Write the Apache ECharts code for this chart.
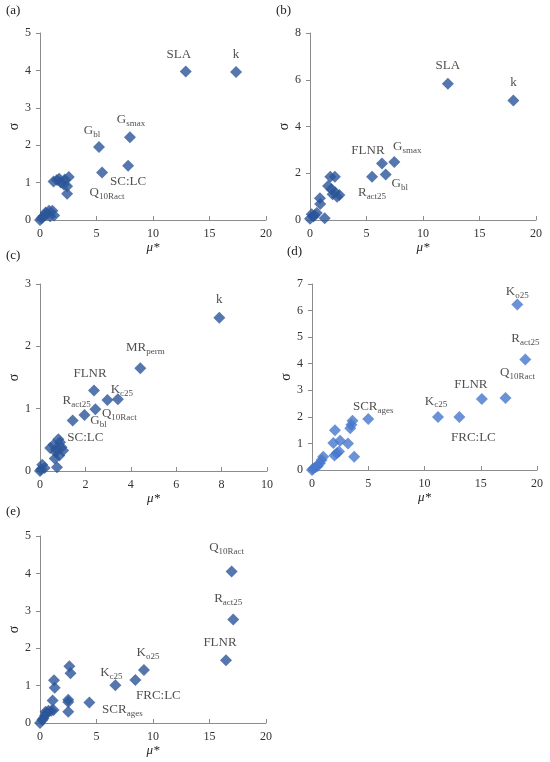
<!DOCTYPE html>
<html><head><meta charset="utf-8">
<script src="https://cdn.jsdelivr.net/npm/echarts@6/dist/echarts.min.js"></script>
<style>html,body{margin:0;padding:0;background:#fff}#c{width:550px;height:762px}</style>
</head><body><div id="c"></div>
<script>
// ---------- DATA ----------
// Panel (a)
const aNames = ['SLA','k','G{s|smax}','G{s|bl}','SC:LC','Q{s|10Ract}'];
const aNamedMu = [12.9, 17.35, 7.96, 5.22, 7.8, 5.49];
const aNamedSigma = [3.97, 3.96, 2.21, 1.95, 1.45, 1.27];
const aMu = [1.2,1.5,1.85,2.2,2.55,2.1,2.4,2.4,1.7,0,0.15,0.3,0.5,0.8,1.1,1.25,0.6,0.9];
const aSigma = [1.03,1.07,1.0,1.08,1.15,0.95,0.9,0.7,1.1,0,0.05,0.1,0.2,0.25,0.25,0.12,0.15,0.1];
// Panel (b)
const bNames = ['SLA','k','G{s|smax}','FLNR','G{s|bl}','R{s|act25}'];
const bNamedMu = [12.2, 18.0, 7.46, 6.37, 6.7, 5.49];
const bNamedSigma = [5.83, 5.11, 2.48, 2.42, 1.95, 1.85];
const bMu = [1.8,2.2,1.6,1.9,2.2,2.4,2.6,2.0,0.88,0.9,0.6,0.3,0,0.15,1.3,0.4];
const bSigma = [1.85,1.85,1.45,1.32,1.2,1.0,1.07,1.1,0.93,0.68,0.3,0.15,0.05,0.25,0.08,0.2];
// Panel (c)
const cNames = ['k','MR{s|perm}','FLNR','K{s|c25}','Q{s|10Ract}','G{s|bl}','R{s|act25}','SC:LC'];
const cNamedMu = [7.9, 4.42, 2.38, 3.43, 2.44, 1.96, 1.44, 0.81];
const cNamedSigma = [2.46, 1.65, 1.29, 1.15, 0.99, 0.9, 0.81, 0.51];
const cMu = [2.97,0.88,0.6,0.95,1.02,0.45,0.7,0.85,0.65,0.75,0.1,0.2,0,0.05,0.7];
const cSigma = [1.14,0.46,0.42,0.38,0.33,0.37,0.3,0.25,0.2,0.06,0.1,0.05,0,0.03,0.35];
// Panel (d)
const dNames = ['K{s|o25}','R{s|act25}','Q{s|10Ract}','FLNR','K{s|c25}','FRC:LC','SCR{s|ages}'];
const dNamedMu = [18.25, 18.96, 17.2, 15.1, 11.2, 13.1, 5.0];
const dNamedSigma = [6.23, 4.16, 2.71, 2.67, 1.99, 1.99, 1.92];
const dMu = [3.6,3.4,3.5,2.04,1.9,2.5,3.2,2.2,2.4,2.0,3.75,1.0,0.85,0.7,0.5,0.3,0.1,0];
const dSigma = [1.85,1.57,1.7,1.5,1.02,1.1,1.0,0.63,0.7,0.55,0.5,0.5,0.38,0.25,0.15,0.1,0.05,0];
// Panel (e)
const eNames = ['Q{s|10Ract}','R{s|act25}','FLNR','K{s|o25}','FRC:LC','K{s|c25}','SCR{s|ages}'];
const eNamedMu = [16.96, 17.1, 16.46, 9.2, 8.44, 6.67, 4.37];
const eNamedSigma = [4.05, 2.77, 1.68, 1.42, 1.15, 1.01, 0.55];
const eMu = [2.6,2.7,1.24,1.3,1.12,1.2,1.0,2.5,2.5,2.5,0,0.3,0.45,0.6,0.75,0.2,0.5];
const eSigma = [1.52,1.33,1.14,0.94,0.6,0.35,0.33,0.62,0.56,0.3,0,0.12,0.2,0.27,0.33,0.08,0.3];

const xTicks = {a:[0,20,5], b:[0,20,5], c:[0,10,2], d:[0,20,5], e:[0,20,5]};
const yTicks = {a:[0,5,1], b:[0,8,2], c:[0,3,1], d:[0,7,1], e:[0,5,1]};

// ---------- LAYOUT / STYLE ----------
const FONT = 'Liberation Serif';
const dark = '#2b5599', light = '#4677cc';
const grids = [
  {left:40, top:33, width:226, height:187},
  {left:310, top:33, width:226, height:187},
  {left:40, top:284, width:227, height:187},
  {left:312, top:284, width:225, height:186},
  {left:40, top:536, width:226, height:187}
];
// label offsets (label centre relative to point centre, px)
const offs = {
  a: [[-7,-17],[0,-17],[1,-18],[-7,-16],[0,16],[5,20]],
  b: [[0,-18],[0,-18],[13,-15],[-14,-13],[14,9],[0,16]],
  c: [[0,-18],[5,-21],[-4,-17],[4,-10],[24,4],[14,6],[4,-20],[27,-2]],
  d: [[0,-13],[0,-21],[12,-25],[-11,-14],[-2,-16],[14,20],[5,-12]],
  e: [[-5,-24],[-5,-21],[-6,-18],[4,-17],[23,16],[-4,-13],[33,7]]
};
const panels = [
  {k:'a', names:aNames, nm:aNamedMu, ns:aNamedSigma, mu:aMu, sg:aSigma, color:dark},
  {k:'b', names:bNames, nm:bNamedMu, ns:bNamedSigma, mu:bMu, sg:bSigma, color:dark},
  {k:'c', names:cNames, nm:cNamedMu, ns:cNamedSigma, mu:cMu, sg:cSigma, color:dark},
  {k:'d', names:dNames, nm:dNamedMu, ns:dNamedSigma, mu:dMu, sg:dSigma, color:light},
  {k:'e', names:eNames, nm:eNamedMu, ns:eNamedSigma, mu:eMu, sg:eSigma, color:dark}
];
const axisColor = '#8c8c8c';
const rich = { s: {fontSize:9, fontFamily:FONT, color:'#222', padding:[8,0,0,0]} };

const xAxis = [], yAxis = [], series = [];
panels.forEach((p, i) => {
  const xt = xTicks[p.k], yt = yTicks[p.k];
  xAxis.push({
    gridIndex:i, type:'value', min:xt[0], max:xt[1], interval:xt[2],
    name:'μ*', nameLocation:'middle', nameGap:19,
    nameTextStyle:{fontFamily:FONT, fontSize:13, fontStyle:'italic', color:'#222'},
    axisLine:{show:true, onZero:false, lineStyle:{color:axisColor}},
    axisTick:{show:true, inside:true, length:4, lineStyle:{color:axisColor}},
    axisLabel:{fontFamily:FONT, fontSize:12, color:'#333', margin:8},
    splitLine:{show:false}
  });
  yAxis.push({
    gridIndex:i, type:'value', min:yt[0], max:yt[1], interval:yt[2],
    name:'σ', nameLocation:'middle', nameGap:19, nameRotate:90,
    nameTextStyle:{fontFamily:FONT, fontSize:14, color:'#222'},
    axisLine:{show:true, onZero:false, lineStyle:{color:axisColor}},
    axisTick:{show:true, inside:false, length:4, lineStyle:{color:axisColor}},
    axisLabel:{fontFamily:FONT, fontSize:12, color:'#333', margin:9},
    splitLine:{show:false}
  });
  const data = [];
  p.mu.forEach((m, j) => data.push([m, p.sg[j]]));
  p.nm.forEach((m, j) => data.push({
    value:[m, p.ns[j]],
    label:{show:true, formatter:p.names[j], position:'inside', offset:offs[p.k][j],
      align:'center', verticalAlign:'middle',
      fontFamily:FONT, fontSize:13, color:'#222', rich:rich}
  }));
  series.push({
    type:'scatter', xAxisIndex:i, yAxisIndex:i, symbol:'diamond', symbolSize:12,
    clip:false, itemStyle:{color:p.color}, data:data, silent:true, animation:false
  });
});

const letters = [['(a)',6,12],['(b)',276,12],['(c)',6,257],['(d)',287,253],['(e)',6,513]];
const graphic = letters.map(l => ({
  type:'text', left:l[1], top:l[2]-8,
  style:{text:l[0], font:'13px "Liberation Serif"', fill:'#222'}
}));

const chart = echarts.init(document.getElementById('c'), null, {renderer:'canvas'});
chart.setOption({
  animation:false,
  backgroundColor:'#fff',
  grid: grids.map(g => Object.assign({outerBoundsMode:'none', containLabel:false}, g)),
  xAxis, yAxis, series, graphic
});
</script></body></html>
